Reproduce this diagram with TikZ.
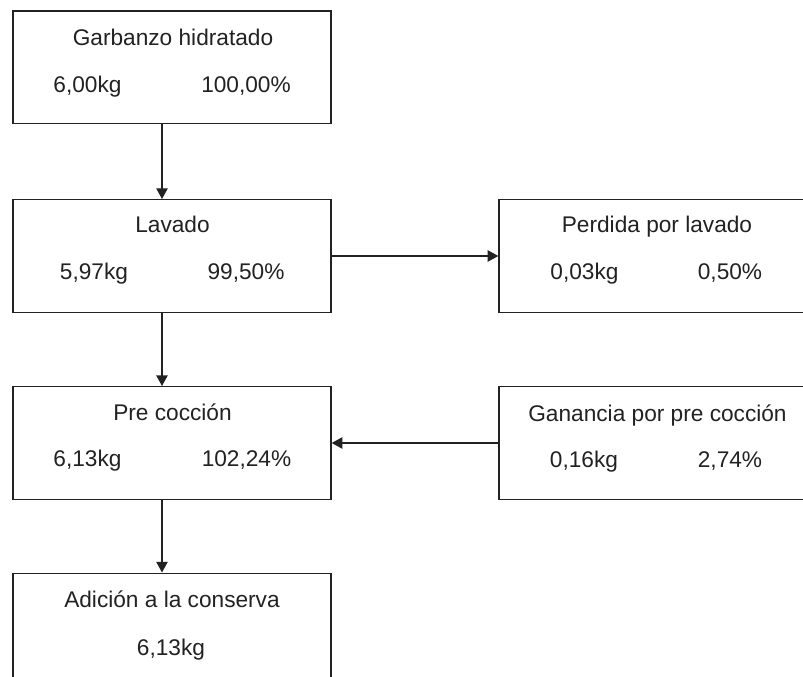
\documentclass[tikz,border=0pt]{standalone}
\usepackage{fontspec}
\setmainfont{Liberation Sans}
\usetikzlibrary{arrows.meta}
\definecolor{ink}{HTML}{222222}
\begin{document}
\begin{tikzpicture}[x=0.75pt,y=-0.75pt,
  procbox/.style={draw=ink,line width=1pt,fill=white,minimum width=238.5pt,minimum height=84.5pt,inner sep=0pt},
  lbl/.style={anchor=base,inner sep=0pt,text=ink,font=\fontsize{17}{20}\selectfont},
  flow/.style={draw=ink,line width=1pt,-{Triangle[length=8pt,width=8.5pt]}},
  vshift/.style={xshift=-7.5pt}]
\useasboundingbox (0,0) rectangle (803,677);
\clip (0,0) rectangle (803,677);
\node[procbox] (b1) at (172,67.5) {};
\node[procbox] (b2) at (172,256) {};
\node[procbox] (b3) at (658,256) {};
\node[procbox] (b4) at (172,443) {};
\node[procbox] (b5) at (658,443) {};
\node[procbox] (b6) at (172,629.5) {};
% texts
\node[lbl] (t1) at (173,46) {Garbanzo hidratado};
\node[lbl] (t1a) at (87.5,93) {6,00kg};
\node[lbl] (t1b) at (246,93) {100,00\%};
\node[lbl] (t2) at (172.5,233) {Lavado};
\node[lbl] (t2a) at (94,280) {5,97kg};
\node[lbl] (t2b) at (246,280) {99,50\%};
\node[lbl] (t3) at (657,233) {Perdida por lavado};
\node[lbl] (t3a) at (584.5,280) {0,03kg};
\node[lbl] (t3b) at (730,280) {0,50\%};
\node[lbl] (t4) at (172.5,420) {Pre cocción};
\node[lbl] (t4a) at (87.5,466) {6,13kg};
\node[lbl] (t4b) at (246.5,466) {102,24\%};
\node[lbl] (t5) at (657.5,421) {Ganancia por pre cocción};
\node[lbl] (t5a) at (584,467) {0,16kg};
\node[lbl] (t5b) at (730,467) {2,74\%};
\node[lbl] (t6) at (172,607) {Adición a la conserva};
\node[lbl] (t6a) at (171,655) {6,13kg};
% connectors
\draw[flow] ([vshift]b1.south) -- ([vshift]b2.north);
\draw[flow] (b2.east) -- (b3.west);
\draw[flow] ([vshift]b2.south) -- ([vshift]b4.north);
\draw[flow] (b5.west) -- (b4.east);
\draw[flow] ([vshift]b4.south) -- ([vshift]b6.north);
\end{tikzpicture}
\end{document}
